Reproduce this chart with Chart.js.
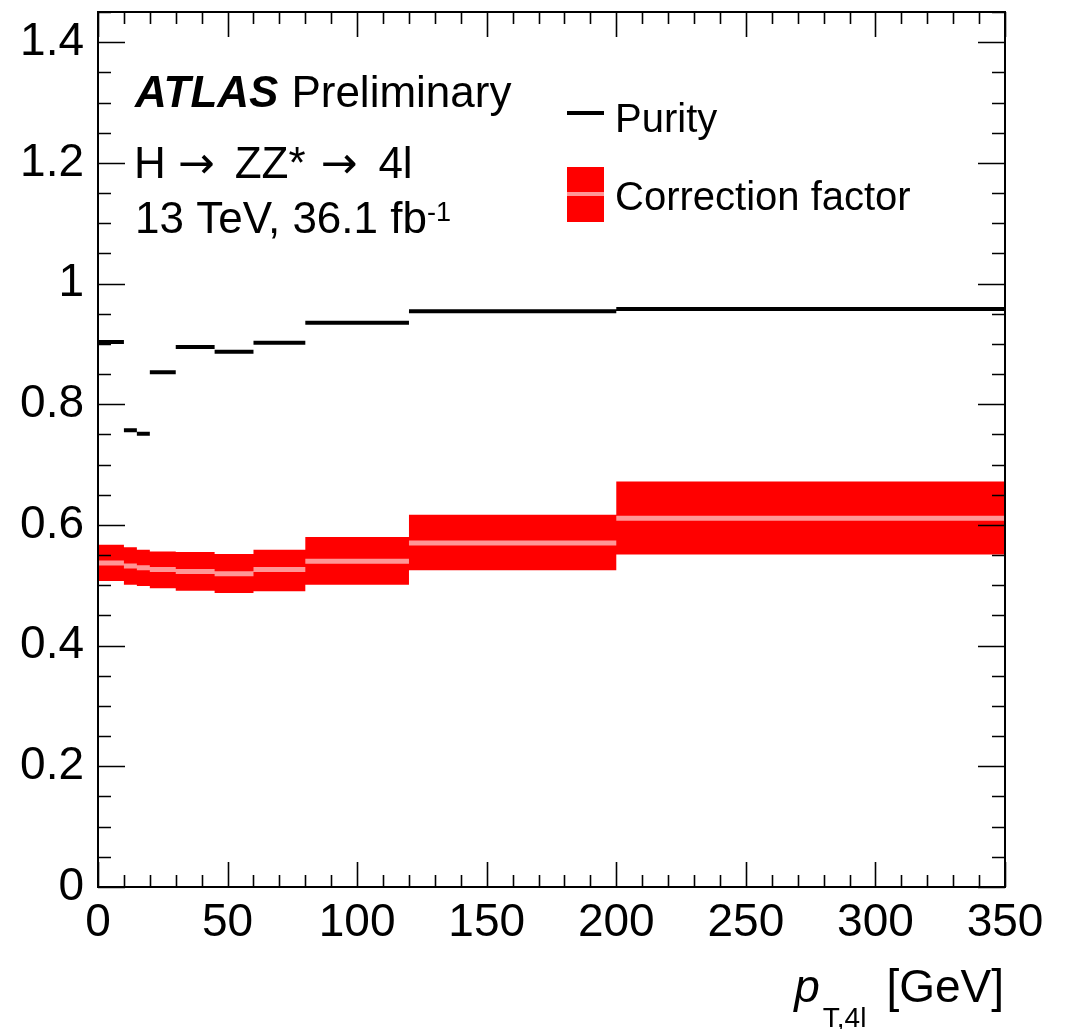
<!DOCTYPE html>
<html>
<head>
<meta charset="utf-8">
<script src="https://cdn.jsdelivr.net/npm/chart.js@4"></script>
<style>
html,body{margin:0;padding:0;background:#fff;}
canvas{display:block;}
</style>
</head>
<body>
<canvas id="c" width="1071" height="1029"></canvas>
<script>
// ---- data ----
const binEdges = [0, 10, 15, 20, 30, 45, 60, 80, 120, 200, 350];
const purity   = [0.903, 0.757, 0.751, 0.853, 0.895, 0.887, 0.902, 0.935, 0.954, 0.958];
const cfCentral = [0.537, 0.532, 0.529, 0.526, 0.523, 0.519, 0.526, 0.540, 0.570, 0.611];
const cfUp      = [0.567, 0.563, 0.559, 0.556, 0.555, 0.552, 0.559, 0.580, 0.617, 0.672];
const cfDown    = [0.507, 0.501, 0.499, 0.495, 0.491, 0.487, 0.490, 0.501, 0.525, 0.551];
const xTickLabels = [0, 50, 100, 150, 200, 250, 300, 350];
const yTickLabels = [0, 0.2, 0.4, 0.6, 0.8, 1, 1.2, 1.4];

// helpers building library datasets from the arrays
function segments(vals) {
  const out = [];
  vals.forEach((v, i) => {
    out.push({x: binEdges[i], y: v});
    out.push({x: binEdges[i + 1], y: v});
    out.push({x: binEdges[i + 1], y: null});
  });
  return out;
}
function steps(vals) {
  const out = vals.map((v, i) => ({x: binEdges[i], y: v}));
  out.push({x: binEdges[binEdges.length - 1], y: vals[vals.length - 1]});
  return out;
}

const FONT = '"Liberation Sans", Arial, Helvetica, sans-serif';
const ARROWFONT = '"DejaVu Sans", sans-serif';

const decor = {
  id: 'decor',
  afterDraw(chart) {
    const ctx = chart.ctx;
    const a = chart.chartArea;
    const xs = chart.scales.x, ys = chart.scales.y;
    ctx.save();
    ctx.strokeStyle = '#000';
    ctx.lineWidth = 2;
    // frame
    ctx.strokeRect(a.left, a.top, a.right - a.left, a.bottom - a.top);
    // x ticks (major every 50, minor every 10), bottom and top
    ctx.lineWidth = 1.6;
    for (let v = xs.min; v <= xs.max + 1e-9; v += 10) {
      const px = Math.round(xs.getPixelForValue(v)) + 0.5;
      const len = (Math.round(v) % 50 === 0) ? 25 : 12;
      ctx.beginPath();
      ctx.moveTo(px, a.bottom); ctx.lineTo(px, a.bottom - len);
      ctx.moveTo(px, a.top); ctx.lineTo(px, a.top + len);
      ctx.stroke();
    }
    // y ticks (major every 0.2, minor every 0.05), left and right
    for (let k = 0; k * 0.05 <= ys.max + 1e-9; k++) {
      const v = k * 0.05;
      const py = Math.round(ys.getPixelForValue(v)) + 0.5;
      const len = (k % 4 === 0) ? 27 : 13;
      ctx.beginPath();
      ctx.moveTo(a.left, py); ctx.lineTo(a.left + len, py);
      ctx.moveTo(a.right, py); ctx.lineTo(a.right - len, py);
      ctx.stroke();
    }

    // ATLAS label
    ctx.fillStyle = '#000';
    ctx.textBaseline = 'alphabetic';
    ctx.textAlign = 'left';
    ctx.font = 'italic bold 44px ' + FONT;
    ctx.fillText('ATLAS', 135, 107);
    const wA = ctx.measureText('ATLAS').width;
    ctx.font = '44px ' + FONT;
    ctx.fillText('Preliminary', 135 + wA + 13, 107);

    // H -> ZZ* -> 4l
    let x = 134;
    const by = 178;
    ctx.font = '44px ' + FONT;
    ctx.fillText('H', x, by);
    x += ctx.measureText('H').width + 12;
    ctx.font = '44px ' + ARROWFONT;
    ctx.fillText('\u2192', x, by);
    x += ctx.measureText('\u2192').width + 20;
    ctx.font = '44px ' + FONT;
    ctx.fillText('ZZ*', x, by);
    x += ctx.measureText('ZZ*').width + 15;
    ctx.font = '44px ' + ARROWFONT;
    ctx.fillText('\u2192', x, by);
    x += ctx.measureText('\u2192').width + 21;
    ctx.font = '44px ' + FONT;
    ctx.fillText('4l', x, by);

    const t3 = '13 TeV, 36.1 fb';
    ctx.fillText(t3, 135, 233);
    const w3 = ctx.measureText(t3).width;
    ctx.font = '27px ' + FONT;
    ctx.fillText('-1', 135 + w3, 221);

    // legend
    ctx.fillStyle = '#000';
    ctx.fillRect(567, 111, 37, 4);
    ctx.fillStyle = '#ff0000';
    ctx.fillRect(567, 167, 37, 55);
    ctx.fillStyle = '#ff9696';
    ctx.fillRect(567, 192, 37, 4);
    ctx.fillStyle = '#000';
    ctx.font = '40px ' + FONT;
    ctx.fillText('Purity', 615, 132);
    ctx.fillText('Correction factor', 615, 210);

    // x-axis title: p_{T,4l} [GeV]
    ctx.font = '46px ' + FONT;
    const gev = '[GeV]';
    const wG = ctx.measureText(gev).width;
    const gx = a.right - 1 - wG;
    ctx.fillText(gev, gx, 1002);
    ctx.font = '28px ' + FONT;
    const sub = 'T,4l';
    const wS = ctx.measureText(sub).width;
    const sx = gx - 20 - wS;
    ctx.fillText(sub, sx, 1027);
    ctx.font = 'italic 46px ' + FONT;
    const wP = ctx.measureText('p').width;
    ctx.fillText('p', sx - 3 - wP, 1002);
    ctx.restore();
  }
};

new Chart(document.getElementById('c'), {
  type: 'line',
  data: {
    datasets: [
      {
        label: 'cfUp', data: steps(cfUp), stepped: 'before',
        borderWidth: 0, borderColor: 'rgba(0,0,0,0)', pointRadius: 0,
        backgroundColor: '#ff0000', fill: '+1', order: 3
      },
      {
        label: 'cfDown', data: steps(cfDown), stepped: 'before',
        borderWidth: 0, borderColor: 'rgba(0,0,0,0)', pointRadius: 0,
        fill: false, order: 3
      },
      {
        label: 'Correction factor', data: segments(cfCentral),
        borderColor: '#ff9696', borderWidth: 5, borderCapStyle: 'butt',
        pointRadius: 0, spanGaps: false, fill: false, order: 2
      },
      {
        label: 'Purity', data: segments(purity),
        borderColor: '#000000', borderWidth: 4, borderCapStyle: 'butt',
        pointRadius: 0, spanGaps: false, fill: false, order: 1
      }
    ]
  },
  options: {
    responsive: false,
    animation: false,
    devicePixelRatio: 1,
    layout: { padding: { top: 12, right: 66, bottom: 0, left: 0 } },
    plugins: { legend: { display: false }, tooltip: { enabled: false } },
    elements: { line: { tension: 0 } },
    scales: {
      x: {
        type: 'linear', min: 0, max: 350,
        grid: { display: false }, border: { display: false },
        afterBuildTicks: (s) => { s.ticks = xTickLabels.map(v => ({value: v})); },
        afterFit: (s) => { s.height = 142; s.paddingLeft = 0; s.paddingRight = 0; s.paddingTop = 0; s.paddingBottom = 0; },
        ticks: {
          padding: 1, maxRotation: 0, autoSkip: false,
          color: '#000', font: { family: FONT, size: 46 },
          callback: (v) => String(v)
        }
      },
      y: {
        type: 'linear', min: 0, max: 1.45,
        grid: { display: false }, border: { display: false },
        afterBuildTicks: (s) => { s.ticks = yTickLabels.map(v => ({value: v})); },
        afterFit: (s) => { s.width = 98; s.paddingLeft = 0; s.paddingRight = 0; s.paddingTop = 0; s.paddingBottom = 0; },
        ticks: {
          padding: 6, autoSkip: false,
          color: '#000', font: { family: FONT, size: 46 },
          callback: (v) => String(v)
        }
      }
    }
  },
  plugins: [decor]
});
</script>
</body>
</html>
